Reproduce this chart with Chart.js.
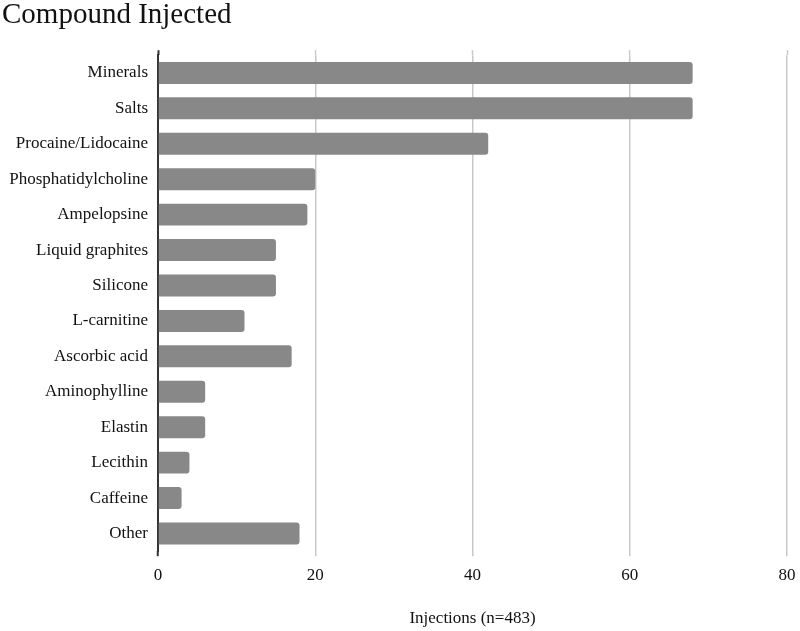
<!DOCTYPE html>
<html>
<head>
<meta charset="utf-8">
<script src="https://cdn.jsdelivr.net/npm/chart.js@4"></script>
<style>
  html, body { margin: 0; padding: 0; background: #fff; }
  #wrap { width: 800px; height: 631px; }
</style>
</head>
<body>
<div id="wrap"><canvas id="c"></canvas></div>
<script>
const categories = ["Minerals", "Salts", "Procaine/Lidocaine", "Phosphatidylcholine", "Ampelopsine",
  "Liquid graphites", "Silicone", "L-carnitine", "Ascorbic acid", "Aminophylline", "Elastin",
  "Lecithin", "Caffeine", "Other"];
const injections = [68, 68, 42, 20, 19, 15, 15, 11, 17, 6, 6, 4, 3, 18];
const xTicks = [0, 20, 40, 60, 80];
const chartTitle = "Compound Injected";
const xAxisTitle = "Injections (n=483)";

const serif = "'Liberation Serif', 'Times New Roman', serif";
const gridColor = '#c8c8c8';
const axisColor = '#333';
const tickMarkColor = (ctx) => (ctx.tick && ctx.tick.value === 0) ? axisColor : gridColor;
const tickMarkWidth = (ctx) => (ctx.tick && ctx.tick.value === 0) ? 2 : 1.5;

new Chart(document.getElementById('c'), {
  type: 'bar',
  data: {
    labels: categories,
    datasets: [{
      data: injections,
      backgroundColor: '#888888',
      borderRadius: 3,
      borderSkipped: 'start',
      barPercentage: 0.62,
      categoryPercentage: 1.0
    }]
  },
  options: {
    indexAxis: 'y',
    responsive: true,
    maintainAspectRatio: false,
    animation: false,
    layout: { padding: { left: 2, right: 13, top: 0, bottom: 0 } },
    plugins: {
      legend: { display: false },
      tooltip: { enabled: false },
      title: {
        display: true,
        text: chartTitle,
        align: 'start',
        color: '#111',
        font: { family: serif, size: 29, weight: 'normal', lineHeight: 0.8 },
        padding: { top: 4, bottom: 23 }
      }
    },
    scales: {
      x: {
        position: 'bottom',
        min: 0,
        max: 80,
        afterBuildTicks: (s) => { s.ticks = xTicks.map(v => ({ value: v })); },
        afterFit: (s) => { s.paddingRight = 0; },
        ticks: {
          color: '#111',
          padding: 9,
          font: { family: serif, size: 17 }
        },
        grid: {
          color: gridColor, lineWidth: 1.5,
          drawTicks: true, tickLength: 5,
          tickColor: tickMarkColor, tickWidth: tickMarkWidth
        },
        border: { display: false },
        title: {
          display: true,
          text: xAxisTitle,
          color: '#111',
          font: { family: serif, size: 17, lineHeight: 1.2 },
          padding: { top: 14, bottom: 2 }
        }
      },
      x2: {
        axis: 'x',
        position: 'top',
        min: 0,
        max: 80,
        afterBuildTicks: (s) => { s.ticks = xTicks.map(v => ({ value: v })); },
        afterFit: (s) => { s.paddingRight = 0; s.paddingLeft = 0; },
        ticks: { display: false },
        grid: {
          drawOnChartArea: false,
          drawTicks: true, tickLength: 5,
          tickColor: tickMarkColor, tickWidth: tickMarkWidth
        },
        border: { display: false }
      },
      y: {
        afterFit: (s) => { s.width = 156; },
        ticks: {
          color: '#111',
          padding: 10,
          font: { family: serif, size: 17 }
        },
        grid: { display: false, drawTicks: false },
        border: { display: true, color: axisColor, width: 2 }
      }
    }
  }
});
</script>
</body>
</html>
